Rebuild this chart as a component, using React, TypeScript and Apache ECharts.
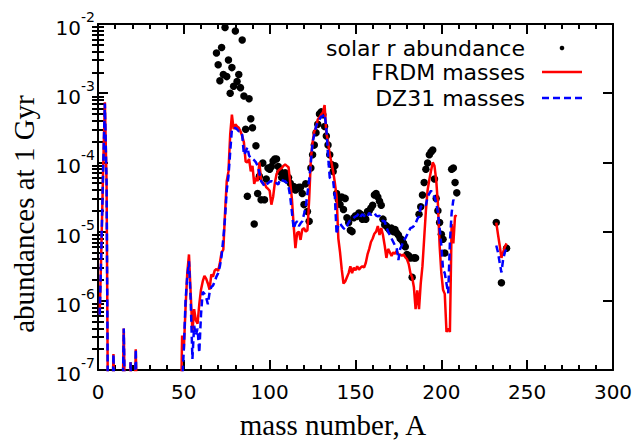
import React, { useEffect, useRef } from "react";
import * as echarts from "echarts";

// ---------- data (log10 of abundance) ----------
// light-element part, shared shape for both mass models
const lightA = [1, 2, 3, 4, 5, 6, 8, 9, 10, 14, 15, 16, 18, 19, 20, 21, 22, 23, 48];
const frdmLightLog10 = [-6.2, -5.2, -4.1, -3.13, -4.3, -8.5, -8, -6.77, -8, -8, -6.4, -8, -8, -6.89, -8, -8, -6.7, -8, -8];
const dz31LightLog10 = [-6.2, -5.2, -4.1, -3.15, -4.3, -8.5, -8, -6.77, -8, -8, -6.4, -8, -8, -6.89, -8, -8, -6.7, -8, -8];

// main part: consecutive mass numbers starting at 49
const frdmMainStartA = 49;
const frdmMainLog10 = [
  -6.5, -6.7, -6.1, -5.6, -5.33, -5.9, -6.45, -6.12, -6.28, -6.33, // 49-58
  -6.05, -5.84, -5.72, -5.64, -5.68, -5.75, -5.84, -5.62, -5.65, -5.56, // 59-68
  -5.54, -5.57, -5.45, -5.3, -5.26, -4.73, -4.27, -4.13, -3.6, -3.31, // 69-78
  -3.52, -3.45, -3.48, -3.5, -3.55, -3.62, -3.71, -3.99, -4.0, -3.95, // 79-88
  -4.13, -4.05, -4.31, -4.22, -4.27, -4.0, -4.25, -4.31, -4.3, -4.36, // 89-98
  -4.38, -4.41, -4.61, -4.5, -4.3, -4.17, -4.12, -4.1, -4.08, -4.05, // 99-108
  -4.03, -4.05, -4.07, -4.3, -4.54, -4.92, -5.24, -5.02, -5.0, -5.12, // 109-118
  -4.97, -4.95, -5.0, -4.98, -4.54, -3.95, -3.71, -3.55, -3.5, -3.38, // 119-128
  -3.35, -3.31, -3.28, -3.17, -3.57, -3.7, -3.89, -4.0, -4.13, -4.3, // 129-138
  -4.5, -5.1, -5.3, -5.55, -5.75, -5.72, -5.66, -5.6, -5.5, -5.6, // 139-148
  -5.52, -5.56, -5.5, -5.55, -5.52, -5.5, -5.52, -5.45, -5.33, -5.25, // 149-158
  -5.15, -5.1, -5.03, -5.0, -4.92, -5.05, -4.95, -5.05, -5.2, -5.38, // 159-168
  -5.25, -5.3, -5.35, -5.3, -5.32, -5.28, -5.33, -5.33, -5.35, -5.33, // 169-178
  -5.37, -5.4, -5.47, -5.6, -5.66, -5.8, -6.12, -5.85, -6.12, -5.75, // 179-188
  -5.5, -5.1, -4.7, -4.4, -4.25, -4.12, -4.0, -4.05, -4.25, -4.6, // 189-198
  -5.2, -5.6, -5.84, -5.9, -6.45, -6.4, -6.45, -4.89, -5.17, -4.77, // 199-208
  -4.78, // 209
];
const dz31MainStartA = 49;
const dz31MainLog10 = [
  -7.2, -6.7, -6.0, -5.65, -5.43, -6.0, -6.84, -6.36, -6.5, -6.4, // 49-58
  -6.75, -6.2, -5.87, -5.9, -5.95, -6.05, -5.88, -5.8, -5.78, -5.72, // 59-68
  -5.65, -5.6, -5.5, -5.35, -5.1, -4.8, -4.4, -4.2, -3.85, -3.52, // 69-78
  -3.52, -3.5, -3.52, -3.55, -3.55, -3.6, -3.89, -3.85, -3.78, -3.9, // 79-88
  -3.94, -3.95, -3.97, -4.0, -4.05, -4.15, -4.27, -4.3, -4.35, -4.33, // 89-98
  -4.3, -4.28, -4.27, -4.28, -4.27, -4.3, -4.32, -4.25, -4.24, -4.27, // 99-108
  -4.27, -4.3, -4.35, -4.5, -4.73, -4.96, -4.88, -4.85, -4.92, -4.88, // 109-118
  -4.85, -4.75, -4.65, -4.45, -4.25, -4.0, -3.71, -3.6, -3.48, -3.42, // 119-128
  -3.38, -3.34, -3.33, -3.3, -3.5, -3.9, -4.22, -4.25, -4.27, -4.5, // 129-138
  -5.04, -4.9, -4.88, -4.92, -4.95, -4.97, -4.92, -4.87, -4.83, -4.82, // 139-148
  -4.8, -4.78, -4.77, -4.73, -4.78, -4.75, -4.77, -4.8, -4.78, -4.73, // 149-158
  -4.76, -4.74, -4.73, -4.77, -4.78, -4.77, -4.8, -4.85, -4.85, -4.94, // 159-168
  -5.0, -5.05, -5.1, -5.15, -5.2, -5.24, -5.41, -5.25, -5.2, -5.12, // 169-178
  -5.1, -5.05, -5.0, -4.95, -4.94, -4.92, -4.88, -4.82, -4.78, -4.64, // 179-188
  -4.62, -4.6, -4.62, -4.5, -4.45, -4.41, -4.45, -4.5, -4.58, -4.72, // 189-198
  -4.95, -5.2, -5.55, -5.6, -5.75, -5.89, -5.15, -4.73, -4.54, -4.6, // 199-208
];

// heavy fragment near A = 232-238
const heavyA = [232, 233, 234, 235, 236, 237, 238];
const frdmHeavyLog10 = [-4.87, -5.04, -5.2, -5.38, -5.3, -5.22, -5.17];
const dz31HeavyLog10 = [-5.2, -5.3, -5.45, -5.59, -5.4, -5.3, -5.24];

// solar r-process abundances
const solarA = [
  69, 70, 71, 72, 73, 74, 75, 76, 77, 78, 79, 80, 81, 82, 83, 84, 85, 86, 87, 88,
  89, 90, 91, 92, 93, 94, 95, 96, 97, 98, 99, 100, 101, 102, 103, 104, 105, 106, 107, 108,
  109, 110, 111, 112, 113, 114, 115, 116, 117, 118, 119, 120, 121, 122, 123, 124, 125, 126, 127, 128,
  129, 130, 131, 132, 133, 134, 135, 136, 137, 138, 139, 140, 141, 142, 143, 144, 145, 146, 147, 148,
  149, 150, 151, 152, 153, 154, 155, 156, 157, 158, 159, 160, 161, 162, 163, 164, 165, 166, 167, 168,
  169, 170, 171, 172, 173, 174, 175, 176, 177, 178, 179, 180, 181, 182, 183, 184, 185, 187, 188, 189,
  190, 191, 192, 193, 194, 195, 196, 197, 198, 199, 200, 201, 202, 206, 207, 208, 209, 232, 235, 238,
];
const solarLog10 = [
  -2.42, -2.59, -2.82, -2.34, -2.73, -2.05, -2.76, -2.52, -3.0, -2.63, -2.9, -2.1, -2.83, -2.73, -2.92, -2.23, -3.04, -3.52, -4.49, -3.08,
  -3.37, -3.5, -4.89, -3.76, -4.45, -4.2, -4.54, -4.01, -4.54, -4.24, -4.08, -4.1, -4.06, -3.98, -3.95, -3.95, -4.06, -4.13, -4.22, -4.2,
  -4.15, -4.25, -4.22, -4.3, -4.38, -4.35, -4.4, -4.38, -4.36, -4.36, -4.45, -4.61, -4.31, -4.71, -4.85, -4.08, -3.89, -3.75, -3.57, -3.45,
  -3.3, -3.27, -3.31, -3.48, -3.62, -3.75, -3.89, -4.03, -4.13, -4.05, -4.45, -4.54, -4.61, -4.5, -4.68, -4.52, -4.8, -4.87, -4.98, -5.0,
  -4.8, -4.77, -4.78, -4.73, -4.75, -4.82, -4.8, -4.82, -4.71, -4.7, -4.66, -4.62, -4.47, -4.45, -4.5, -4.56, -4.62, -4.82, -4.9, -4.92,
  -4.95, -4.98, -4.95, -5.0, -4.97, -5.02, -5.05, -5.1, -5.12, -5.17, -5.22, -5.33, -5.35, -5.38, -5.66, -5.38, -5.38, -4.75, -4.64, -4.47,
  -4.29, -4.1, -4.01, -3.89, -3.85, -3.82, -4.24, -4.52, -4.7, -4.87, -5.04, -5.11, -5.31, -4.1, -4.08, -4.29, -4.44, -4.87, -5.74, -5.24,
];

// axes
const xMin = 0;
const xMax = 300;
const xInterval = 50;
const yMin = 1e-7;
const yMax = 1e-2;
const yDecadeExponents = [-7, -6, -5, -4, -3];
const minorMultipliers = [2, 3, 4, 5, 6, 7, 8, 9];

const seriesNames = ["solar r abundance", "FRDM masses", "DZ31 masses"];

// ---------- helpers ----------
const toPoint = (a: number, lg: number | null) => [a, lg === null ? "-" : Math.pow(10, lg)];

function buildLine(lA: number[], lLog: number[], start: number, main: number[], hA: number[], hLog: number[]) {
  const pts: any[] = [];
  lA.forEach((a, i) => pts.push(toPoint(a, lLog[i])));
  main.forEach((v, i) => pts.push(toPoint(start + i, v)));
  pts.push([220, "-"]);
  hA.forEach((a, i) => pts.push(toPoint(a, hLog[i])));
  return pts;
}

const SANS = '"DejaVu Sans", sans-serif';
const SERIF = '"Liberation Serif", "Times New Roman", serif';

export default function App() {
  const ref = useRef<HTMLDivElement>(null);

  useEffect(() => {
    if (!ref.current) return;
    const chart = echarts.init(ref.current, undefined, { renderer: "svg" });

    const frdmData = buildLine(lightA, frdmLightLog10, frdmMainStartA, frdmMainLog10, heavyA, frdmHeavyLog10);
    const dz31Data = buildLine(lightA, dz31LightLog10, dz31MainStartA, dz31MainLog10, heavyA, dz31HeavyLog10);
    const solarData = solarA.map((a, i) => toPoint(a, solarLog10[i]));

    const minorTickValues: number[] = [];
    yDecadeExponents.forEach((e) => minorMultipliers.forEach((m) => minorTickValues.push(m * Math.pow(10, e))));

    const axisLineStyle = { color: "#000", width: 2 };
    const tickLine = { color: "#000", width: 2 };

    const xAxisBase = {
      type: "value",
      min: xMin,
      max: xMax,
      interval: xInterval,
      splitLine: { show: false },
      axisLine: { show: true, onZero: false, lineStyle: axisLineStyle },
      axisTick: { show: true, inside: true, length: 10, lineStyle: tickLine },
      minorTick: { show: true, splitNumber: 5, length: 5, lineStyle: tickLine },
    };

    const yMinorAxis = (position: string) => ({
      type: "log",
      logBase: 10,
      min: yMin,
      max: yMax,
      position,
      splitLine: { show: false },
      axisLine: { show: false },
      axisTick: { show: true, inside: true, length: 6, lineStyle: tickLine, customValues: minorTickValues },
      axisLabel: { show: false },
    });

    const option: any = {
      animation: false,
      backgroundColor: "#fff",
      grid: { left: 98, top: 24, right: 26, bottom: 61, containLabel: false },
      xAxis: [
        {
          ...xAxisBase,
          position: "bottom",
          axisLabel: { show: true, color: "#000", fontSize: 20, fontFamily: SANS, margin: 12 },
          name: "mass number, A",
          nameLocation: "middle",
          nameGap: 40,
          nameTextStyle: { color: "#000", fontSize: 29, fontFamily: SERIF, padding: [0, 45, 0, 0] },
        },
        {
          ...xAxisBase,
          position: "top",
          axisLabel: { show: false },
        },
      ],
      yAxis: [
        {
          type: "log",
          logBase: 10,
          min: yMin,
          max: yMax,
          position: "left",
          splitLine: { show: false },
          axisLine: { show: true, onZero: false, lineStyle: axisLineStyle },
          axisTick: { show: true, inside: true, length: 10, lineStyle: tickLine },
          axisLabel: {
            show: true,
            margin: 3,
            formatter: (v: number) => `{b|10}{s|${Math.round(Math.log10(v))}}`,
            rich: {
              b: { fontSize: 20, fontFamily: SANS, color: "#000", lineHeight: 28, verticalAlign: "bottom" },
              s: { fontSize: 14, fontFamily: SANS, color: "#000", lineHeight: 16, verticalAlign: "top" },
            },
          },
          name: "abundances at 1 Gyr",
          nameLocation: "middle",
          nameRotate: 90,
          nameGap: 60,
          nameTextStyle: { color: "#000", fontSize: 29, fontFamily: SERIF, padding: [0, 34, 0, 0] },
        },
        {
          type: "log",
          logBase: 10,
          min: yMin,
          max: yMax,
          position: "right",
          splitLine: { show: false },
          axisLine: { show: true, onZero: false, lineStyle: axisLineStyle },
          axisTick: { show: true, inside: true, length: 10, lineStyle: tickLine },
          axisLabel: { show: false },
        },
        yMinorAxis("left"),
        yMinorAxis("right"),
      ],
      series: [
        {
          type: "scatter",
          name: seriesNames[0],
          data: solarData,
          symbol: "circle",
          symbolSize: 7.5,
          itemStyle: { color: "#000", opacity: 1 },
          z: 2,
        },
        {
          type: "line",
          name: seriesNames[1],
          data: frdmData,
          symbol: "none",
          connectNulls: false,
          lineStyle: { color: "#ff0000", width: 2.5 },
          z: 3,
        },
        {
          type: "line",
          name: seriesNames[2],
          data: dz31Data,
          symbol: "none",
          connectNulls: false,
          lineStyle: { color: "#0000ff", width: 2.5, type: [7, 4] },
          z: 4,
        },
      ],
      graphic: [
        {
          type: "text",
          x: 525,
          y: 48,
          style: { text: seriesNames[0], font: `22px ${SANS}`, fill: "#000", align: "right", verticalAlign: "middle", textAlign: "right", textVerticalAlign: "middle" },
        },
        { type: "circle", shape: { cx: 562, cy: 48, r: 2.3 }, style: { fill: "#000" } },
        {
          type: "text",
          x: 525,
          y: 72,
          style: { text: seriesNames[1], font: `22px ${SANS}`, fill: "#000", align: "right", verticalAlign: "middle", textAlign: "right", textVerticalAlign: "middle" },
        },
        { type: "line", shape: { x1: 542, y1: 72, x2: 582, y2: 72 }, style: { stroke: "#ff0000", lineWidth: 2.5 } },
        {
          type: "text",
          x: 525,
          y: 98,
          style: { text: seriesNames[2], font: `22px ${SANS}`, fill: "#000", align: "right", verticalAlign: "middle", textAlign: "right", textVerticalAlign: "middle" },
        },
        { type: "line", shape: { x1: 542, y1: 98, x2: 582, y2: 98 }, style: { stroke: "#0000ff", lineWidth: 2.5, lineDash: [7, 4] } },
      ],
    };

    chart.setOption(option);
    return () => chart.dispose();
  }, []);

  return (
    <div
      ref={ref}
      style={{ position: "fixed", left: 0, top: 0, width: 639, height: 444, background: "#fff" }}
    />
  );
}
